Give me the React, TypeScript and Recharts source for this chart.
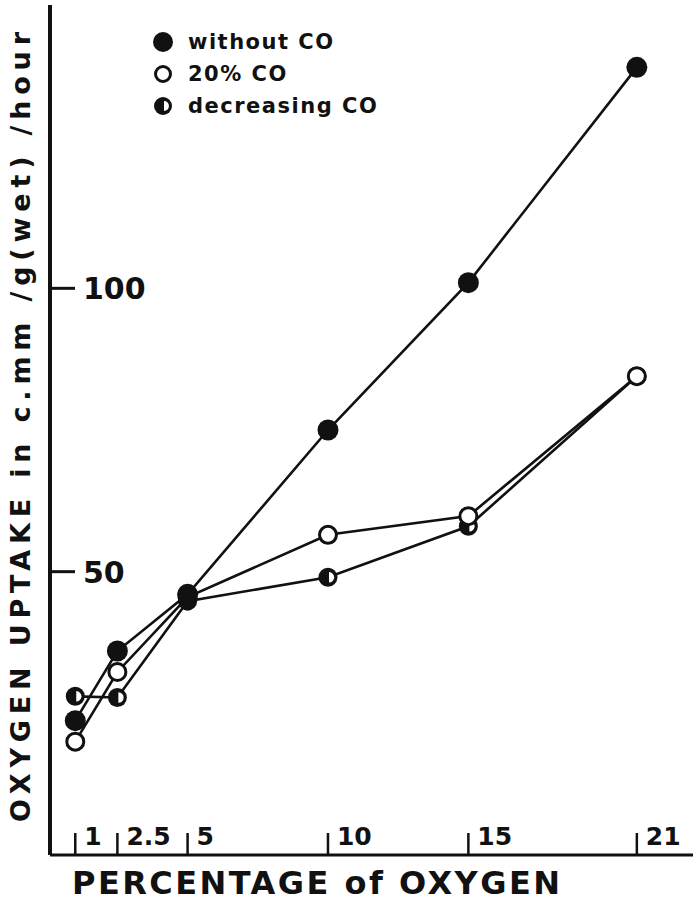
import React from 'react';
import { LineChart, Line, XAxis, YAxis, Legend, Label } from 'recharts';

// values (oxygen % vs uptake)
const oxygenPct = [1, 2.5, 5, 10, 15, 21];
const withoutCO = [23.7, 36, 46, 75, 101, 139];
const co20 = [20, 32.3, 45.5, 56.5, 59.8, 84.5];
const decreasingCO = [28, 27.8, 44.8, 49, 58, 84.5];

const xTicks = [1, 2.5, 5, 10, 15, 21];
const yTicks = [50, 100];

const seriesNames = ['without CO', '20% CO', 'decreasing CO'];

const data = oxygenPct.map((x, i) => ({
  x,
  withoutCO: withoutCO[i],
  co20: co20[i],
  decreasingCO: decreasingCO[i],
}));

const INK = '#111';
const FONT = '"DejaVu Sans", Verdana, sans-serif';

const FilledDot = (cx: number, cy: number, r = 10.5) => <circle cx={cx} cy={cy} r={r} fill={INK} />;
const OpenDot = (cx: number, cy: number, r = 8.5) => (
  <circle cx={cx} cy={cy} r={r} fill="#fff" stroke={INK} strokeWidth={3} />
);
const HalfDot = (cx: number, cy: number, r = 9.5) => (
  <g>
    <circle cx={cx} cy={cy} r={r} fill={INK} />
    <path d={`M ${cx + 1} ${cy - r * 0.55} A ${r * 0.55} ${r * 0.55} 0 0 1 ${cx + 1} ${cy + r * 0.55} Z`} fill="#fff" />
  </g>
);

const markers = [FilledDot, OpenDot, HalfDot];

const dotFor = (fn: (cx: number, cy: number) => React.ReactElement) => (props: any) => (
  <g key={`d-${props.dataKey}-${props.index}`}>{fn(props.cx, props.cy)}</g>
);

const XTick = (props: any) => {
  const { x, y, payload } = props;
  return (
    <g>
      <line x1={x} y1={y} x2={x} y2={y - 22} stroke={INK} strokeWidth={2.5} />
      <text x={x + 9} y={y - 10} fontSize={25} fontWeight="bold" fontFamily={FONT} fill={INK}>
        {payload.value}
      </text>
    </g>
  );
};

const YTick = (props: any) => {
  const { x, y, payload } = props;
  return (
    <g>
      <line x1={x} y1={y} x2={x + 25} y2={y} stroke={INK} strokeWidth={3} />
      <text x={x + 33} y={y + 11} fontSize={30} fontWeight="bold" fontFamily={FONT} fill={INK}>
        {payload.value}
      </text>
    </g>
  );
};

const LegendBox = () => (
  <div style={{ fontFamily: FONT, fontWeight: 'bold', fontSize: 21, color: INK, letterSpacing: 1.5 }}>
    {seriesNames.map((name, i) => (
      <div key={name} style={{ display: 'flex', alignItems: 'center', height: 32 }}>
        <svg width={24} height={24} style={{ marginRight: 13 }}>
          {markers[i](12, 12, i === 0 ? 10 : i === 1 ? 7.5 : 9)}
        </svg>
        <span>{name}</span>
      </div>
    ))}
  </div>
);

export default function App() {
  return (
    <div style={{ position: 'absolute', left: 0, top: 0, background: '#fff' }}>
      <LineChart width={694} height={907} data={data} margin={{ top: 5, right: 1, left: 0, bottom: 0 }}>
        <XAxis
          dataKey="x"
          type="number"
          domain={[0.1, 23]}
          ticks={xTicks}
          height={52}
          tickSize={0}
          tickMargin={0}
          tickLine={false}
          tick={XTick}
          axisLine={{ stroke: INK, strokeWidth: 3 }}
          allowDataOverflow
        >
          <Label
            content={(p: any) => (
              <text
                x={p.viewBox.x + 22}
                y={p.viewBox.y + 39}
                fontSize={32}
                fontWeight="bold"
                fontFamily={FONT}
                fill={INK}
                textLength={488}
                lengthAdjust="spacing"
              >
                PERCENTAGE of OXYGEN
              </text>
            )}
          />
        </XAxis>
        <XAxis
          xAxisId="top"
          orientation="top"
          dataKey="x"
          type="number"
          domain={[0.1, 23]}
          height={0}
          tick={false}
          tickLine={false}
          axisLine={{ stroke: INK, strokeWidth: 3 }}
        />
        <YAxis
          type="number"
          domain={[0, 150]}
          ticks={yTicks}
          width={50}
          tickSize={0}
          tickMargin={0}
          tickLine={false}
          tick={YTick}
          axisLine={{ stroke: INK, strokeWidth: 4 }}
        >
          <Label
            content={(p: any) => {
              const cx = 20;
              const cy = p.viewBox.y + p.viewBox.height / 2 - 3;
              return (
                <text
                  x={cx}
                  y={cy}
                  transform={`rotate(-90, ${cx}, ${cy})`}
                  textAnchor="middle"
                  dominantBaseline="central"
                  fontSize={27}
                  fontWeight="bold"
                  fontFamily={FONT}
                  fill={INK}
                  textLength={790}
                  lengthAdjust="spacing"
                >
                  OXYGEN UPTAKE in c.mm /g(wet) /hour
                </text>
              );
            }}
          />
        </YAxis>
        <YAxis
          yAxisId="right"
          orientation="right"
          type="number"
          domain={[0, 150]}
          width={0}
          tick={false}
          tickLine={false}
          axisLine={{ stroke: INK, strokeWidth: 1.5 }}
        />
        <Legend
          layout="vertical"
          align="center"
          verticalAlign="middle"
          content={LegendBox}
          wrapperStyle={{ left: 151, top: 26, width: 300 }}
        />
        <Line
          dataKey="decreasingCO"
          name={seriesNames[2]}
          stroke={INK}
          strokeWidth={2.6}
          dot={dotFor(HalfDot)}
          isAnimationActive={false}
        />
        <Line
          dataKey="co20"
          name={seriesNames[1]}
          stroke={INK}
          strokeWidth={2.6}
          dot={dotFor(OpenDot)}
          isAnimationActive={false}
        />
        <Line
          dataKey="withoutCO"
          name={seriesNames[0]}
          stroke={INK}
          strokeWidth={2.6}
          dot={dotFor(FilledDot)}
          isAnimationActive={false}
        />
      </LineChart>
    </div>
  );
}
